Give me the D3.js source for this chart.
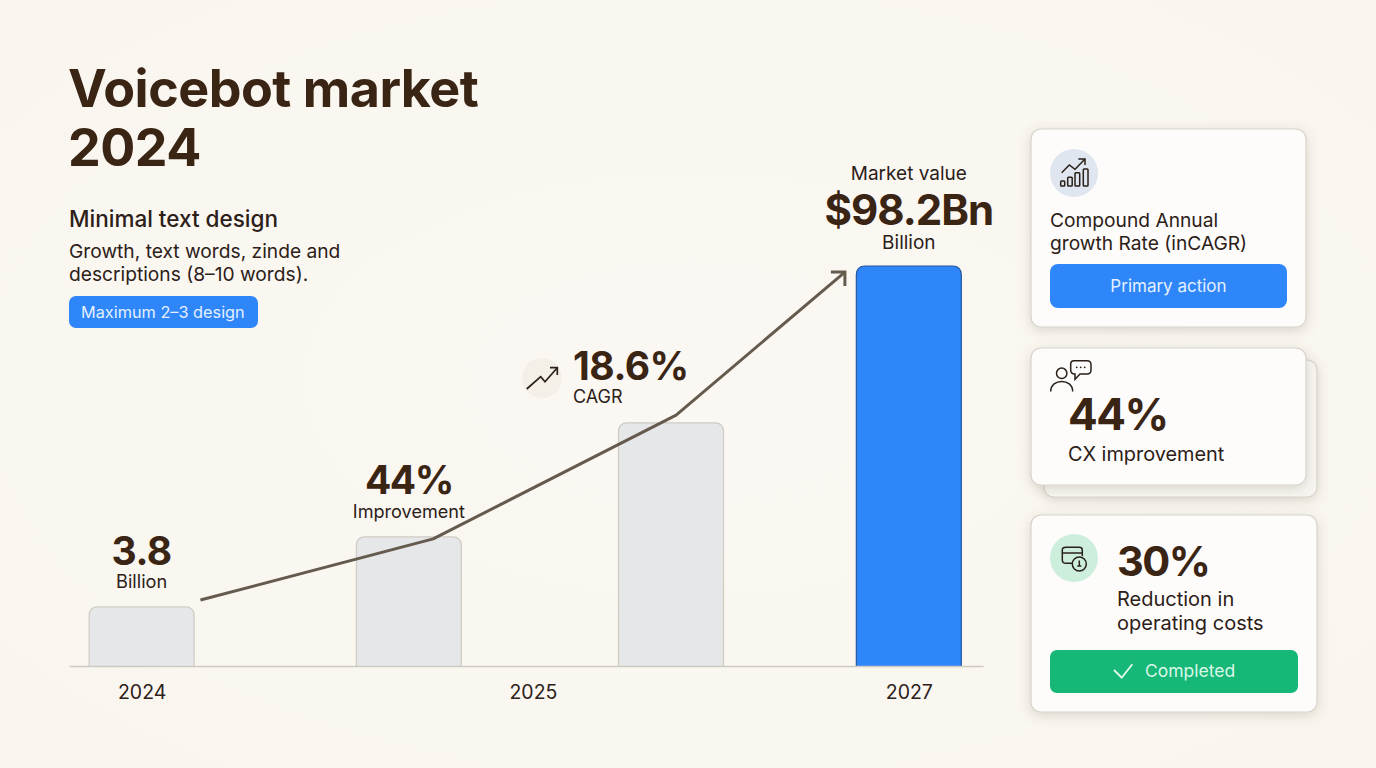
<!DOCTYPE html>
<html>
<head>
<meta charset="utf-8">
<title>Voicebot market 2024</title>
<script src="https://cdn.jsdelivr.net/npm/d3@7"></script>
<style>
html,body{margin:0;padding:0;background:#faf7f1;overflow:hidden;}
svg{display:block;}
text{font-family:Inter,"Noto Sans",sans-serif;}
</style>
</head>
<body>
<div id="chart"></div>
<script>
// chart values
const barYears = [2024, 2025.045, 2026.07, 2027];
const barValues = [14.5, 31.7, 59.7, 98.2];
const tickYears = [2024, 2025.53, 2027];
const tickLabels = ["2024", "2025", "2027"];

// growth line
const lineYears = [2024.23, 2025.14, 2026.09, 2026.75];
const lineValues = [16.2, 31.2, 61.6, 96.7];

// text
const titleLines = ["Voicebot market", "2024"];
const introLines = ["Growth, text words, zinde and", "descriptions (8–10 words)."];
const card1Lines = ["Compound Annual", "growth Rate (inCAGR)"];
const card3Lines = ["Reduction in", "operating costs"];

const width = 1376, height = 768;
const inkDark = "#3a2413", inkText = "#2c2018";
const blue = "#2e86f9", green = "#17b877";

const svg = d3.select("#chart").append("svg")
    .attr("width", width)
    .attr("height", height);

const defs = svg.append("defs");

const bgGrad = defs.append("radialGradient").attr("id", "bg").attr("r", "75%");
bgGrad.append("stop").attr("offset", "0%").attr("stop-color", "#fbf8f3");
bgGrad.append("stop").attr("offset", "100%").attr("stop-color", "#f9f5ee");

const shadow = defs.append("filter").attr("id", "cardShadow")
    .attr("x", "-15%").attr("y", "-15%").attr("width", "130%").attr("height", "135%");
shadow.append("feDropShadow")
    .attr("dx", 0).attr("dy", 3).attr("stdDeviation", 6)
    .attr("flood-color", "#6b5a45").attr("flood-opacity", 0.22);

svg.append("rect").attr("width", width).attr("height", height).attr("fill", "url(#bg)");

// helper for the many text labels
function label(parent, str, x, y, size, weight, color, anchor){
    return parent.append("text")
        .attr("x", x)
        .attr("y", y)
        .attr("font-size", size)
        .attr("font-weight", weight)
        .attr("fill", color)
        .attr("text-anchor", anchor || "start")
        .text(str);
}

// header block
titleLines.forEach((t, i) => {
    label(svg, t, 68, 107 + i * 59, 52, 700, inkDark).attr("letter-spacing", -0.5);
});
label(svg, "Minimal text design", 69, 227, 22.5, 500, inkText);
introLines.forEach((t, i) => {
    label(svg, t, 69, 258 + i * 23, 19.2, 400, inkText);
});
svg.append("rect")
    .attr("x", 69).attr("y", 296).attr("width", 189).attr("height", 32)
    .attr("rx", 7).attr("fill", blue);
label(svg, "Maximum 2–3 design", 81, 318, 16.3, 400, "#e4f0ff");

// scales
const x = d3.scaleLinear().domain([2023.716, 2027.29]).range([69, 983]);
const y = d3.scaleLinear().domain([0, 98.2]).range([666, 266]);
const barWidth = 105;

// bar with rounded top corners only
function barPath(d){
    const left = x(d.year) - barWidth / 2, top = y(d.value), r = 9;
    const p = d3.path();
    p.moveTo(left, y(0));
    p.lineTo(left, top + r);
    p.quadraticCurveTo(left, top, left + r, top);
    p.lineTo(left + barWidth - r, top);
    p.quadraticCurveTo(left + barWidth, top, left + barWidth, top + r);
    p.lineTo(left + barWidth, y(0));
    return p.toString();
}

const bars = barYears.map((year, i) => ({year: year, value: barValues[i]}));

svg.selectAll(".bar")
    .data(bars)
    .enter()
    .append("path")
    .attr("class", "bar")
    .attr("d", barPath)
    .attr("fill", (d, i) => i === 3 ? blue : "#e6e7e8")
    .attr("stroke", (d, i) => i === 3 ? "#24589c" : "#cfccc5")
    .attr("stroke-width", 1.2);

const xAxis = d3.axisBottom(x)
    .tickValues(tickYears)
    .tickFormat((d, i) => tickLabels[i])
    .tickSize(0)
    .tickPadding(19);

const axisG = svg.append("g")
    .attr("transform", `translate(0,${y(0)})`)
    .call(xAxis);
axisG.select(".domain").attr("stroke", "#cfcac1").attr("stroke-width", 1.4);
axisG.selectAll("text")
    .attr("font-size", 19.5)
    .attr("fill", inkText)
    .style("font-family", "Inter");

// growth line and its open arrow head
const lineData = lineYears.map((year, i) => [x(year), y(lineValues[i])]);
const lineGen = d3.line();
svg.append("path")
    .attr("d", lineGen(lineData))
    .attr("fill", "none")
    .attr("stroke", "#655a4e")
    .attr("stroke-width", 3)
    .attr("stroke-linejoin", "round");

const tip = lineData[lineData.length - 1];
svg.append("path")
    .attr("d", lineGen([[tip[0] - 14, tip[1]], tip, [tip[0], tip[1] + 14]]))
    .attr("fill", "none")
    .attr("stroke", "#655a4e")
    .attr("stroke-width", 3);

// labels over the bars
label(svg, "3.8", x(barYears[0]), 565, 39, 700, inkDark, "middle").attr("letter-spacing", -0.5);
label(svg, "Billion", x(barYears[0]), 588, 18.2, 400, inkText, "middle");
label(svg, "44%", x(barYears[1]), 494, 39, 700, inkDark, "middle").attr("letter-spacing", -1.5);
label(svg, "Improvement", x(barYears[1]), 518, 18.1, 400, inkText, "middle");

svg.append("circle").attr("cx", 542).attr("cy", 378).attr("r", 20).attr("fill", "#f4f0e8");
const cagrIcon = svg.append("g")
    .attr("fill", "none").attr("stroke", "#2a2019").attr("stroke-width", 1.7);
cagrIcon.append("path").attr("d", "M526.7 389 L540.7 376.7 L545 381.7 L557.3 367.7");
cagrIcon.append("path").attr("d", "M550 367.7 H557.3 V375");
label(svg, "18.6%", 573, 380, 39, 700, inkDark).attr("letter-spacing", -0.5);
label(svg, "CAGR", 573, 403, 18, 400, inkText);

label(svg, "Market value", x(barYears[3]), 180, 19, 400, inkText, "middle");
label(svg, "$98.2Bn", x(barYears[3]), 225, 42, 700, inkDark, "middle").attr("letter-spacing", -1);
label(svg, "Billion", x(barYears[3]), 249, 19, 400, inkText, "middle");

// right hand cards
function card(xPos, yPos, w, h, fill){
    return svg.append("rect")
        .attr("x", xPos).attr("y", yPos).attr("width", w).attr("height", h)
        .attr("rx", 10)
        .attr("fill", fill || "#fdfcfa")
        .attr("stroke", "#d8d3ca")
        .attr("stroke-width", 1.2)
        .attr("filter", "url(#cardShadow)");
}

// card 1
card(1031, 129, 275, 198);
svg.append("circle").attr("cx", 1074).attr("cy", 173).attr("r", 24).attr("fill", "#dfe6ef");
const icon1 = svg.append("g")
    .attr("fill", "none").attr("stroke", "#2a2019").attr("stroke-width", 1.5);
icon1.append("path").attr("d", "M1061.7 172.7 L1069.3 165 L1075 169.3 L1085 159");
icon1.append("path").attr("d", "M1078.3 159 H1085 V165");
[[1060.7, 181, 4, 5], [1067.7, 177.3, 4.5, 8.7], [1075, 172.7, 4.7, 13.3], [1083.3, 169, 4.7, 17]].forEach(b => {
    icon1.append("rect")
        .attr("x", b[0]).attr("y", b[1]).attr("width", b[2]).attr("height", b[3]).attr("rx", 0.8);
});
card1Lines.forEach((t, i) => {
    label(svg, t, 1050, 227 + i * 23, 19.2, 400, inkText);
});
svg.append("rect")
    .attr("x", 1050).attr("y", 264).attr("width", 237).attr("height", 44)
    .attr("rx", 8).attr("fill", blue);
label(svg, "Primary action", 1168.5, 292, 17, 400, "#e4f0ff", "middle");

// card 2, with a second sheet behind it
card(1044, 360, 273, 137, "#f8f6f2");
card(1031, 348, 275, 137);
const icon2 = svg.append("g")
    .attr("fill", "none").attr("stroke", "#2a2019").attr("stroke-width", 1.5);
icon2.append("circle").attr("cx", 1061.7).attr("cy", 373.3).attr("r", 5.2);
icon2.append("path").attr("d", "M1050.7 391.5 C1050.7 378 1072.7 378 1072.7 391.5");
icon2.append("path").attr("d", "M1074 360.7 H1087 Q1091 360.7 1091 364.7 V370 Q1091 374 1087 374 H1080 L1075 379.3 V374 Q1070.7 374 1070.7 370 V364 Q1070.7 360.7 1074 360.7 Z");
[1076.7, 1080.7, 1084.7].forEach(cx => {
    svg.append("circle").attr("cx", cx).attr("cy", 367.3).attr("r", 0.9).attr("fill", "#2a2019");
});
label(svg, "44%", 1068, 430, 44, 700, inkDark).attr("letter-spacing", -1.5);
label(svg, "CX improvement", 1068, 461, 19.9, 400, inkText);

// card 3
card(1031, 515, 286, 197);
svg.append("circle").attr("cx", 1074).attr("cy", 558).attr("r", 24).attr("fill", "#cdeedd");
const icon3 = svg.append("g")
    .attr("fill", "none").attr("stroke", "#2a2019").attr("stroke-width", 1.5);
icon3.append("path").attr("d", "M1072 563.3 H1066 Q1062.3 563.3 1062.3 559.7 V550 Q1062.3 547.3 1066 547.3 H1079 Q1082.3 547.3 1082.3 550 V556");
icon3.append("path").attr("d", "M1062.3 553 H1082.3");
icon3.append("circle").attr("cx", 1079.3).attr("cy", 564).attr("r", 7);
icon3.append("path").attr("d", "M1079.3 560.5 V566 M1077.3 566 H1081.3");
label(svg, "30%", 1117, 576, 41.5, 700, inkDark).attr("letter-spacing", -1.5);
card3Lines.forEach((t, i) => {
    label(svg, t, 1117, 606 + i * 24, 20, 400, inkText);
});
svg.append("rect")
    .attr("x", 1050).attr("y", 650).attr("width", 248).attr("height", 43)
    .attr("rx", 7).attr("fill", green);
svg.append("path")
    .attr("d", "M1114 670 L1121.7 677.7 L1132.3 664.3")
    .attr("fill", "none").attr("stroke", "#e6faf0").attr("stroke-width", 1.8);
label(svg, "Completed", 1145, 677, 17.5, 400, "#d8f7e8");
</script>
</body>
</html>
